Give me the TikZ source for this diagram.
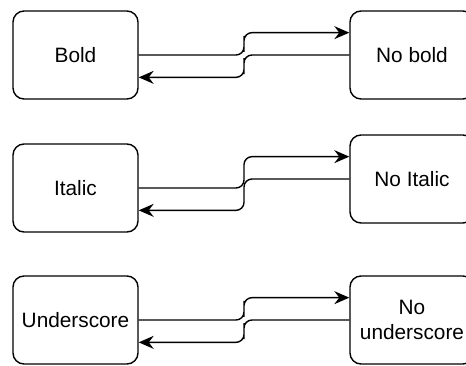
\documentclass[tikz,border=0pt]{standalone}
\usepackage{fontspec}
\setmainfont{Liberation Sans}
\usetikzlibrary{calc,arrows.meta}
\begin{document}
\begin{tikzpicture}[x=1pt,y=-1pt,
  state/.style={draw,line width=1.4pt,rounded corners=11pt,
    minimum width=125pt,minimum height=88pt,inner sep=0pt,align=center,
    font=\fontsize{20.8}{25}\selectfont},
  link/.style={line width=1.4pt,rounded corners=8pt,
    -{Stealth[length=15pt,width=13pt,inset=5pt]}}]
\useasboundingbox (0,0) rectangle (466,365);
\clip (0,0) rectangle (466,365);
% left column
\node[state] (b)  at (75.5,55)  {Bold};
\node[state] (i)  at (75.5,188) {Italic};
\node[state] (u)  at (75.5,320) {Underscore};
% right column
\node[state,minimum width=124pt] (nb) at (412,55)  {No bold};
\node[state,minimum width=124pt] (ni) at (412,179) {No Italic};
\node[state,minimum width=124pt] (nu) at (412,320) {No\\underscore};
% paired transitions
\foreach \a/\n in {b/nb,i/ni,u/nu}{
  \coordinate (\a in)  at ($(\a.east)!0.5!(\a.south east)$);
  \coordinate (\n in)  at ($(\n.west)!0.5!(\n.north west)$);
  \coordinate (\a m1) at ($(\a.east)!0.5!(\n in)$);
  \coordinate (\a m2) at ($(\n.west)!0.5!(\a in)$);
  \draw[link] (\a.east) -| (\a m1) |- (\n in);
  \draw[link] (\n.west) -| (\a m2) |- (\a in);
}
\end{tikzpicture}
\end{document}
